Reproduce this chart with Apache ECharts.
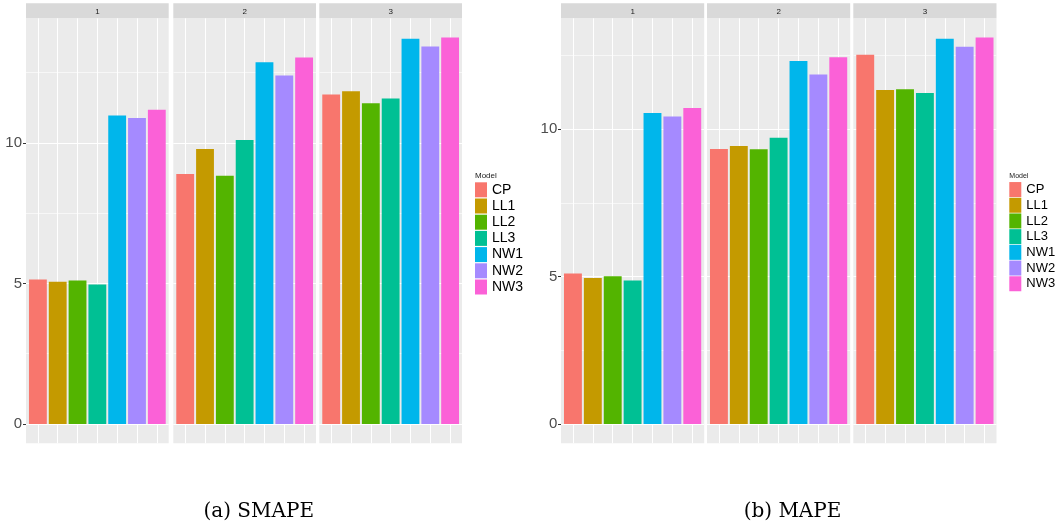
<!DOCTYPE html>
<html><head><meta charset="utf-8">
<script src="https://cdn.jsdelivr.net/npm/echarts@6/dist/echarts.min.js"></script>
<style>html,body{margin:0;padding:0;background:#fff}#c{width:1056px;height:527px}</style>
</head><body><div id="c"></div>
<script>
// ---- data ----
const models = ['CP', 'LL1', 'LL2', 'LL3', 'NW1', 'NW2', 'NW3'];
const facets = ['1', '2', '3'];
// (a) SMAPE, one array per facet, values in model order
const smape1 = [5.14, 5.06, 5.11, 4.96, 10.98, 10.89, 11.18];
const smape2 = [8.90, 9.79, 8.83, 10.11, 12.87, 12.40, 13.04];
const smape3 = [11.73, 11.84, 11.41, 11.58, 13.71, 13.43, 13.75];
// (b) MAPE
const mape1 = [5.11, 4.95, 5.01, 4.87, 10.55, 10.43, 10.72];
const mape2 = [9.33, 9.43, 9.32, 9.71, 12.32, 11.86, 12.44];
const mape3 = [12.53, 11.33, 11.36, 11.23, 13.07, 12.80, 13.11];
const yTicks = [0, 5, 10];
const yMinorTicks = [2.5, 7.5, 12.5];
const captions = ['(a) SMAPE', '(b) MAPE'];
const legendTitle = 'Model';

// ---- styling / layout ----
const colors = ['#F8766D', '#C49A00', '#53B400', '#00C094', '#00B6EB', '#A58AFF', '#FB61D7'];
const panelTop = 18.3, panelBottom = 443.3, stripTop = 3.3;
const charts = [
  { caption: captions[0], data: [smape1, smape2, smape3], panelLeft: [26, 173.3, 319.3], panelWidth: 142.7,
    legendLeft: 475, legendTop: 181.7, legendFont: 14, legendLine: 16.2, titleFont: 8, capX: 258.7, labelMargin: 4 },
  { caption: captions[1], data: [mape1, mape2, mape3], panelLeft: [561, 707, 853.3], panelWidth: 143.2,
    legendLeft: 1009.3, legendTop: 181.7, legendFont: 13, legendLine: 15.7, titleFont: 7, capX: 792.5, labelMargin: 3.7 }
];

const grid = [], xAxis = [], yAxis = [], series = [], legend = [], graphic = [];

charts.forEach((ch, ci) => {
  const vmax = Math.max(...ch.data.flat());
  const yMin = -0.05 * vmax, yMax = 1.05 * vmax;
  ch.data.forEach((vals, pi) => {
    const gi = grid.length;
    grid.push({ left: ch.panelLeft[pi], top: panelTop, width: ch.panelWidth, height: panelBottom - panelTop,
      show: true, backgroundColor: '#EBEBEB', borderWidth: 0, containLabel: false });
    xAxis.push({ gridIndex: gi, type: 'value', min: 0.4, max: models.length + 0.6,
      axisLine: { show: false }, axisLabel: { show: false },
      axisTick: { show: false, customValues: models.map((m, i) => i + 1) },
      splitLine: { show: true, lineStyle: { color: '#FFFFFF', width: 1 } } });
    const yi = yAxis.length;
    // minor grid lines first (underneath)
    yAxis.push({ gridIndex: gi, type: 'value', min: yMin, max: yMax, position: 'right', z: 0,
      axisLine: { show: false }, axisTick: { show: false, customValues: yMinorTicks }, axisLabel: { show: false },
      splitLine: { show: true, lineStyle: { color: '#F7F7F7', width: 1 } } });
    yAxis.push({ gridIndex: gi, type: 'value', min: yMin, max: yMax, position: 'left', z: 1,
      axisLine: { show: false },
      axisTick: { show: pi === 0, length: 3, lineStyle: { color: '#333333', width: 1 }, customValues: yTicks },
      axisLabel: { show: pi === 0, customValues: yTicks, margin: ch.labelMargin, fontSize: 15, color: '#4D4D4D',
        fontFamily: 'Liberation Sans' },
      splitLine: { show: true, lineStyle: { color: '#FFFFFF', width: 1.2 } } });
    models.forEach((m, k) => {
      series.push({ type: 'bar', name: m, xAxisIndex: gi, yAxisIndex: yi + 1, data: [[k + 1, vals[k]]],
        barWidth: '90%', barGap: '-100%', itemStyle: { color: colors[k] }, z: 2, silent: true, animation: false });
    });
    graphic.push({ type: 'rect', shape: { x: ch.panelLeft[pi], y: stripTop, width: ch.panelWidth, height: panelTop - stripTop },
      style: { fill: '#D9D9D9' }, silent: true });
    graphic.push({ type: 'text', x: ch.panelLeft[pi] + ch.panelWidth / 2, y: (stripTop + panelTop) / 2 + 0.5,
      style: { text: facets[pi], fontSize: 8, fontFamily: 'Liberation Sans', fill: '#1A1A1A', align: 'center', verticalAlign: 'middle' }, silent: true });
  });
  legend.push({ orient: 'vertical', left: ch.legendLeft, top: ch.legendTop, padding: 0, itemWidth: 12, itemHeight: 15, itemGap: 0,
    icon: 'rect', selectedMode: false, data: models,
    textStyle: { fontSize: ch.legendFont, lineHeight: ch.legendLine, color: '#000000', fontFamily: 'Liberation Sans' } });
  graphic.push({ type: 'text', x: ch.legendLeft, y: 175.7,
    style: { text: legendTitle, fontSize: ch.titleFont, fontFamily: 'Liberation Sans', fill: '#1A1A1A', align: 'left', verticalAlign: 'middle' }, silent: true });
  graphic.push({ type: 'text', x: ch.capX, y: 512,
    style: { text: ch.caption, fontSize: 20, fontFamily: 'DejaVu Serif', fill: '#000000', align: 'center', verticalAlign: 'middle' }, silent: true });
});

const chart = echarts.init(document.getElementById('c'), null, { renderer: 'canvas' });
chart.setOption({ animation: false, backgroundColor: '#FFFFFF', grid, xAxis, yAxis, series, legend, graphic, tooltip: { show: false } });
</script></body></html>
